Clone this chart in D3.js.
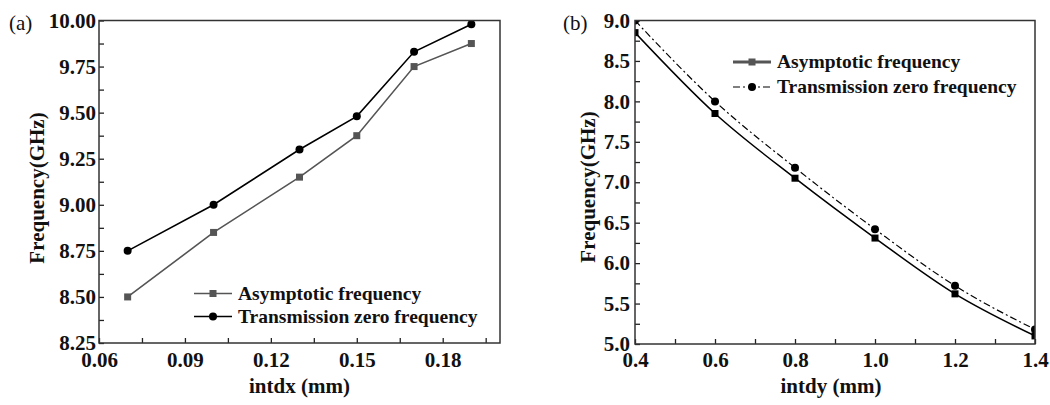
<!DOCTYPE html>
<html><head><meta charset="utf-8">
<script src="https://cdn.jsdelivr.net/npm/d3@7"></script>
<style>
body{margin:0;background:#fff}
svg{display:block}
text{font-family:"Liberation Serif","Times New Roman",serif}
</style>
</head><body>
<svg id="c" width="1050" height="405"></svg>
<script>
// ---- data ----
const seriesNames = ["Asymptotic frequency", "Transmission zero frequency"];
const intdx  = [0.07, 0.10, 0.13, 0.15, 0.17, 0.19];
const asymA  = [8.50, 8.85, 9.15, 9.375, 9.75, 9.875];
const transA = [8.75, 9.00, 9.30, 9.48, 9.83, 9.98];
const intdy  = [0.4, 0.6, 0.8, 1.0, 1.2, 1.4];
const asymB  = [8.85, 7.85, 7.05, 6.31, 5.62, 5.10];
const transB = [9.00, 8.00, 7.18, 6.42, 5.72, 5.18];
const xTicksA = [0.06, 0.09, 0.12, 0.15, 0.18];
const xMinorA = [0.075, 0.105, 0.135, 0.165, 0.195];
const yTicksA = [8.25, 8.50, 8.75, 9.00, 9.25, 9.50, 9.75, 10.00];
const yMinorA = [8.375, 8.625, 8.875, 9.125, 9.375, 9.625, 9.875];
const xTicksB = [0.4, 0.6, 0.8, 1.0, 1.2, 1.4];
const xMinorB = [0.5, 0.7, 0.9, 1.1, 1.3];
const yTicksB = [5.0, 5.5, 6.0, 6.5, 7.0, 7.5, 8.0, 8.5, 9.0];
const yMinorB = [5.25, 5.75, 6.25, 6.75, 7.25, 7.75, 8.25, 8.75];

const svg = d3.select("#c");
const FS = 21;

function panel(cfg) {
  const {L, R, T, B, xDom, yDom, xT, xM, yT, yM, xFmt, yFmt, xs, s1, s2, id} = cfg;
  const x = d3.scaleLinear().domain(xDom).range([L, R]);
  const y = d3.scaleLinear().domain(yDom).range([B, T]);
  const g = svg.append("g");

  // minor ticks
  g.append("g").attr("transform", `translate(0,${B})`)
    .call(d3.axisBottom(x).tickValues(xM).tickSizeInner(-5).tickSizeOuter(0).tickFormat(""))
    .call(a => a.select(".domain").remove());
  g.append("g").attr("transform", `translate(${L},0)`)
    .call(d3.axisLeft(y).tickValues(yM).tickSizeInner(-5).tickSizeOuter(0).tickFormat(""))
    .call(a => a.select(".domain").remove());
  // major ticks
  const xa = g.append("g").attr("transform", `translate(0,${B})`)
    .call(d3.axisBottom(x).tickValues(xT).tickSizeInner(-5).tickSizeOuter(0).tickPadding(cfg.xPad).tickFormat(xFmt));
  xa.select(".domain").remove();
  const ya = g.append("g").attr("transform", `translate(${L},0)`)
    .call(d3.axisLeft(y).tickValues(yT).tickSizeInner(-5).tickSizeOuter(0).tickPadding(cfg.yPad).tickFormat(yFmt));
  ya.select(".domain").remove();
  g.selectAll(".tick line").attr("stroke", "#222").attr("stroke-width", 1.3);
  g.selectAll(".tick text").attr("font-size", FS).attr("font-weight", "bold")
    .attr("font-family", '"Liberation Serif",serif').attr("fill", "#111");

  // clip
  svg.append("clipPath").attr("id", id).append("rect")
    .attr("x", L).attr("y", T).attr("width", R - L).attr("height", B - T);
  const dg = svg.append("g").attr("clip-path", `url(#${id})`);

  const pts = (vals) => xs.map((v, i) => [v, vals[i]]);
  const line = d3.line().x(d => x(d[0])).y(d => y(d[1])).curve(cfg.curve);

  [s1, s2].forEach(s => {
    dg.append("path").datum(pts(s.vals)).attr("d", line)
      .attr("fill", "none").attr("stroke", s.color).attr("stroke-width", s.w)
      .attr("stroke-dasharray", s.dash || null);
  });
  dg.selectAll(".sq").data(pts(s1.vals)).join("rect")
    .attr("x", d => x(d[0]) - s1.size / 2).attr("y", d => y(d[1]) - s1.size / 2)
    .attr("width", s1.size).attr("height", s1.size).attr("fill", s1.mcolor);
  dg.selectAll(".ci").data(pts(s2.vals)).join("circle")
    .attr("cx", d => x(d[0])).attr("cy", d => y(d[1])).attr("r", s2.r).attr("fill", s2.mcolor);

  // frame
  svg.append("rect").attr("x", L).attr("y", T).attr("width", R - L).attr("height", B - T)
    .attr("fill", "none").attr("stroke", "#333").attr("stroke-width", 1.5);

  // legend
  const lg = svg.append("g");
  const leg = cfg.legend;
  [s1, s2].forEach((s, i) => {
    const ly = leg.y[i];
    lg.append("line").attr("x1", leg.x1).attr("x2", leg.x2).attr("y1", ly).attr("y2", ly)
      .attr("stroke", s.lcolor || s.color).attr("stroke-width", s.lw || s.w)
      .attr("stroke-dasharray", s.dash || null);
    const cx = (leg.x1 + leg.x2) / 2;
    if (i === 0) {
      lg.append("rect").attr("x", cx - s1.size / 2).attr("y", ly - s1.size / 2)
        .attr("width", s1.size).attr("height", s1.size).attr("fill", s1.lmcolor || s1.mcolor);
    } else {
      lg.append("circle").attr("cx", cx).attr("cy", ly).attr("r", s2.r).attr("fill", s2.mcolor);
    }
    lg.append("text").attr("x", leg.tx).attr("y", ly).attr("dy", "0.33em")
      .attr("font-size", 19.5).attr("font-weight", "bold").attr("fill", "#111").text(seriesNames[i]);
  });

  // titles
  svg.append("text").attr("x", (L + R) / 2 + cfg.xtOff).attr("y", cfg.xtY)
    .attr("text-anchor", "middle").attr("font-size", FS).attr("font-weight", "bold")
    .attr("fill", "#111").text(cfg.xTitle);
  svg.append("text").attr("transform", `translate(${cfg.ytX},${cfg.ytY}) rotate(-90)`)
    .attr("text-anchor", "middle").attr("font-size", FS).attr("font-weight", "bold")
    .attr("fill", "#111").text("Frequency(GHz)");
  svg.append("text").attr("x", cfg.lab[0]).attr("y", cfg.lab[1])
    .attr("font-size", FS).attr("fill", "#111").text(cfg.label);
}

panel({
  id: "clipA", L: 99, R: 500, T: 20.5, B: 343,
  xDom: [0.06, 0.20], yDom: [8.25, 10.00],
  xT: xTicksA, xM: xMinorA, yT: yTicksA, yM: yMinorA,
  xFmt: d3.format(".2f"), yFmt: d3.format(".2f"), xPad: 9, yPad: 3,
  xs: intdx, curve: d3.curveLinear,
  s1: {vals: asymA, color: "#555", mcolor: "#555", w: 1.6, size: 7},
  s2: {vals: transA, color: "#000", mcolor: "#000", w: 1.6, r: 4},
  legend: {x1: 194, x2: 232, tx: 238, y: [293.5, 316.5]},
  xTitle: "intdx (mm)", xtOff: 0, xtY: 393,
  ytX: 44, ytY: 188, label: "(a)", lab: [9, 30]
});

panel({
  id: "clipB", L: 635, R: 1035, T: 20.5, B: 344,
  xDom: [0.4, 1.4], yDom: [5.0, 9.0],
  xT: xTicksB, xM: xMinorB, yT: yTicksB, yM: yMinorB,
  xFmt: d3.format(".1f"), yFmt: d3.format(".1f"), xPad: 8, yPad: 5,
  xs: intdy, curve: d3.curveMonotoneX,
  s1: {vals: asymB, color: "#000", mcolor: "#000", w: 1.5, size: 7, lcolor: "#555", lw: 3, lmcolor: "#555"},
  s2: {vals: transB, color: "#000", mcolor: "#000", w: 1.2, r: 4, dash: "7,3,2,3"},
  legend: {x1: 733, x2: 771, tx: 777, y: [62, 87]},
  xTitle: "intdy (mm)", xtOff: -4, xtY: 393,
  ytX: 595, ytY: 187, label: "(b)", lab: [563, 30]
});
</script>
</body></html>
